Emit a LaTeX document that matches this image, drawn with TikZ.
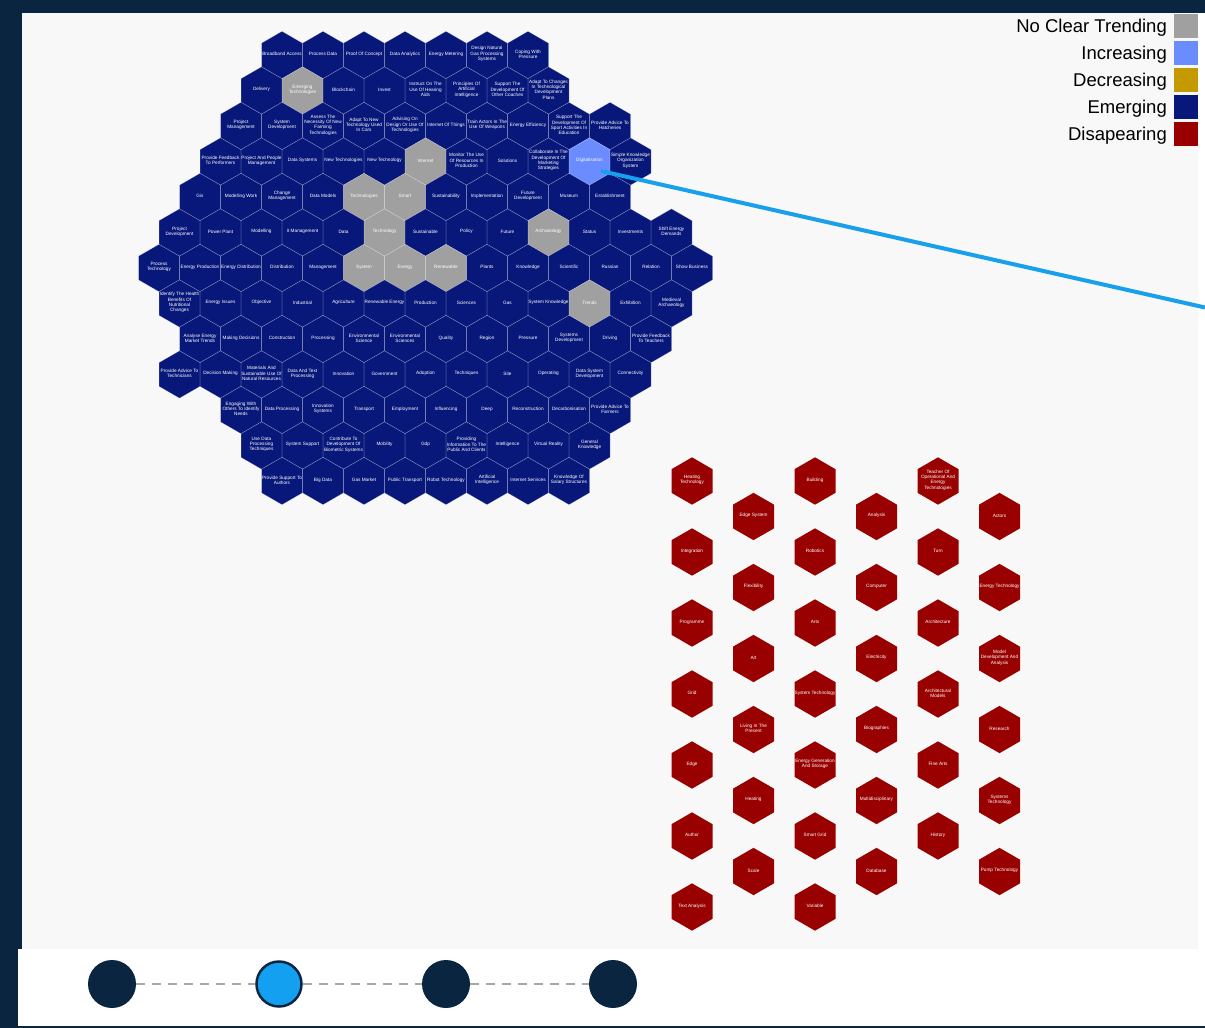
\documentclass[tikz,border=0pt]{standalone}
\usepackage{fontspec}
\setmainfont{Liberation Sans}
\definecolor{frame}{HTML}{0A2540}
\definecolor{panel}{HTML}{F8F8F8}
\definecolor{hN}{HTML}{08187A}
\definecolor{hG}{HTML}{A0A0A0}
\definecolor{hB}{HTML}{6B8CFF}
\definecolor{hY}{HTML}{C49A00}
\definecolor{hR}{HTML}{990000}
\definecolor{linkblue}{HTML}{18A0EC}
\definecolor{selblue}{HTML}{14A0F0}
\definecolor{dashgray}{HTML}{A8A8A8}
\tikzset{
  hexborder/.style={draw=white, draw opacity=0.3, line width=0.5pt},
  hextext/.style={text=white, font=\fontsize{4.7}{5.3}\selectfont, align=center, inner sep=0pt},
  legtext/.style={text=black, font=\fontsize{18.5}{22}\selectfont, inner sep=0pt},
  tlnode/.style={circle, minimum size=48pt, inner sep=0pt, fill=frame},
  tlsel/.style={circle, minimum size=45pt, inner sep=0pt, fill=selblue, draw=frame, line width=2.5pt},
  tldash/.style={dashgray, line width=2pt, dash pattern=on 9pt off 7pt},
  link/.style={linkblue, line width=4pt}
}
\newcommand\hexpath[3]{%
  \filldraw[#3] (#1,#2) +(30:23.67pt) -- +(90:23.67pt) -- +(150:23.67pt) -- +(210:23.67pt) -- +(270:23.67pt) -- +(330:23.67pt) -- cycle;}
\newcommand\hexrow[3]{%
  \foreach \hcol/\htxt [count=\i from 0] in {#3}{%
    \pgfmathsetmacro\hxx{#2+41*\i}%
    \pgfmathsetmacro\hyy{54+35.5*#1}%
    \hexpath{\hxx}{\hyy+1}{hexborder, fill=\hcol}%
    \node[hextext] (g#1-\i) at (\hxx,\hyy) {\htxt};
  }%
}
\newcommand\redcol[4]{%
  \foreach \htxt [count=\i from 0] in {#4}{%
    \pgfmathsetmacro\hyy{#3+71*\i}%
    \hexpath{#2}{\hyy+1}{fill=hR, draw=none}%
    \node[hextext] (r#1-\i) at (#2,\hyy) {\htxt};
  }%
}
\begin{document}
\begin{tikzpicture}[x=1pt, y=-1pt]
\useasboundingbox (0,0) rectangle (1205,1028);
\fill[frame] (0,0) rectangle (1205,1028);
\fill[white] (22,12.7) rectangle (1205,1026);
\fill[white] (18,949) rectangle (1205,1026);
\fill[panel] (22,12.7) rectangle (1198,949);

% hex grid
\hexrow{0}{282}{hN/Broadband Access, hN/Process Data, hN/Proof Of Concept, hN/Data Analytics, hN/Energy Metering, hN/Design Natural\\Gas Processing\\Systems, hN/Coping With\\Pressure}
\hexrow{1}{261.5}{hN/Delivery, hG/Emerging\\Technologies, hN/Blockchain, hN/Invest, hN/Instruct On The\\Use Of Hearing\\Aids, hN/Principles Of\\Artificial\\Intelligence, hN/Support The\\Development Of\\Other Coaches, hN/Adapt To Changes\\In Technological\\Development\\Plans}
\hexrow{2}{241}{hN/Project\\Management, hN/System\\Development, hN/Assess The\\Necessity Of New\\Farming\\Technologies, hN/Adapt To New\\Technology Used\\In Cars, hN/Advising On\\Design Or Use Of\\Technologies, hN/Internet Of Things, hN/Train Actors In The\\Use Of Weapons, hN/Energy Efficiency, hN/Support The\\Development Of\\Sport Activities In\\Education, hN/Provide Advice To\\Hatcheries}
\hexrow{3}{220.5}{hN/Provide Feedback\\To Performers, hN/Project And People\\Management, hN/Data Systems, hN/New Technologies, hN/New Technology, hG/Internet, hN/Monitor The Use\\Of Resources In\\Production, hN/Solutions, hN/Collaborate In The\\Development Of\\Marketing\\Strategies, hB/Digitalisation, hN/Simple Knowledge\\Organization\\System}
\hexrow{4}{200}{hN/Gis, hN/Modelling Work, hN/Change\\Management, hN/Data Models, hG/Technologies, hG/Smart, hN/Sustainability, hN/Implementation, hN/Future\\Development, hN/Museum, hN/Establishment}
\hexrow{5}{179.5}{hN/Project\\Development, hN/Power Plant, hN/Modelling, hN/It Management, hN/Data, hG/Technology, hN/Sustainable, hN/Policy, hN/Future, hG/Archaeology, hN/Status, hN/Investments, hN/Shift Energy\\Demands}
\hexrow{6}{159}{hN/Process\\Technology, hN/Energy Production, hN/Energy Distribution, hN/Distribution, hN/Management, hG/System, hG/Energy, hG/Renewable, hN/Plants, hN/Knowledge, hN/Scientific, hN/Russian, hN/Relation, hN/Show Business}
\hexrow{7}{179.5}{hN/Identify The Health\\Benefits Of\\Nutritional\\Changes, hN/Energy Issues, hN/Objective, hN/Industrial, hN/Agriculture, hN/Renewable Energy, hN/Production, hN/Sciences, hN/Gas, hN/System Knowledge, hG/Trends, hN/Exhibition, hN/Medieval\\Archaeology}
\hexrow{8}{200}{hN/Analyse Energy\\Market Trends, hN/Making Decisions, hN/Construction, hN/Processing, hN/Environmental\\Science, hN/Environmental\\Sciences, hN/Quality, hN/Region, hN/Pressure, hN/Systems\\Development, hN/Driving, hN/Provide Feedback\\To Teachers}
\hexrow{9}{179.5}{hN/Provide Advice To\\Technicians, hN/Decision Making, hN/Materials And\\Sustainable Use Of\\Natural Resources, hN/Data And Text\\Processing, hN/Innovation, hN/Government, hN/Adoption, hN/Techniques, hN/Site, hN/Operating, hN/Data System\\Development, hN/Connectivity}
\hexrow{10}{241}{hN/Engaging With\\Others To Identify\\Needs, hN/Data Processing, hN/Innovation\\Systems, hN/Transport, hN/Employment, hN/Influencing, hN/Deep, hN/Reconstruction, hN/Decarbonisation, hN/Provide Advice To\\Farmers}
\hexrow{11}{261.5}{hN/Use Data\\Processing\\Techniques, hN/System Support, hN/Contribute To\\Development Of\\Biometric Systems, hN/Mobility, hN/Gdp, hN/Providing\\Information To The\\Public And Clients, hN/Intelligence, hN/Virtual Reality, hN/General\\Knowledge}
\hexrow{12}{282}{hN/Provide Support To\\Authors, hN/Big Data, hN/Gas Market, hN/Public Transport, hN/Robot Technology, hN/Artificial\\Intelligence, hN/Internet Services, hN/Knowledge Of\\Salary Structures}

% disappearing hexes
\redcol{a}{692}{480}{Heating\\Technology, Integration, Programme, Grid, Edge, Author, Text Analysis}
\redcol{b}{753.5}{515.5}{Edge System, Flexibility, Art, Living In The\\Present, Heating, Scale}
\redcol{c}{815}{480}{Building, Robotics, Arts, System Technology, Energy Generation\\And Storage, Smart Grid, Variable}
\redcol{d}{876.5}{515.5}{Analysis, Computer, Electricity, Biographies, Multidisciplinary, Database}
\redcol{e}{938}{480}{Teacher Of\\Operational And\\Energy\\Technologies, Turn, Architecture, Architectural\\Models, Fine Arts, History}
\redcol{f}{999.5}{515.5}{Actors, Energy Technology, Model\\Development And\\Analysis, Research, Systems\\Technology, Pump Technology}

% link line
\coordinate (linkA) at (601,171);
\coordinate (linkB) at (1205,307.5);
\draw[link] (linkA) -- (linkB);

% legend
\foreach \lab/\col [count=\i from 0] in {No Clear Trending/hG, Increasing/hB, Decreasing/hY, Emerging/hN, Disapearing/hR}{%
  \node[legtext, anchor=base east] (leg\i) at (1167, {32.3+27*\i}) {\lab};
  \fill[\col] (1174, {14+27*\i}) rectangle (1198, {38+27*\i});
}

% timeline
\node[tlnode] (t1) at (112,984) {};
\node[tlsel] (t2) at (279,984) {};
\node[tlnode] (t3) at (446,984) {};
\node[tlnode] (t4) at (613,984) {};
\draw[tldash] (t1) -- (t2);
\draw[tldash] (t2) -- (t3);
\draw[tldash] (t3) -- (t4);
\end{tikzpicture}
\end{document}
